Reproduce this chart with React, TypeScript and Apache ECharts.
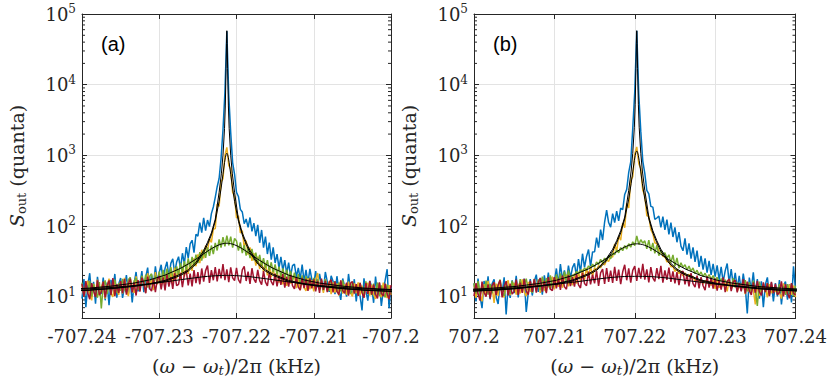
import React, { useEffect, useRef } from "react";
import * as echarts from "echarts";

// ---------- sample grid (Hz offsets, 0.25 Hz steps) ----------
const STEP_HZ = 0.25;
const X0_A = -707240;
const X1_A = -707200;
const X0_B = 707200;
const X1_B = 707240;
const CENTER_A = -707221.25;
const CENTER_B = 707220.25;

// ---------- panel (a) measured spectra ----------
const blueA = [
  9.4, 17.8, 7.1, 14.6, 21.5, 10.2, 16.3, 8.0, 19.1, 12.2,
  11.0, 18.7, 8.9, 15.9, 7.6, 17.3, 12.4, 21.0, 9.7, 15.2,
  18.4, 9.6, 13.9, 20.2, 10.8, 16.8, 8.3, 15.5, 22.4, 11.9,
  15.0, 23.1, 11.6, 18.9, 25.8, 12.7, 20.6, 14.1, 26.9, 16.2,
  22.0, 28.3, 16.4, 25.1, 31.2, 19.0, 29.6, 34.4, 21.5, 31.0,
  36.8, 24.9, 41.2, 29.4, 50.3, 35.2, 55.8, 63.0, 42.1, 76.4,
  72.0, 112.0, 80.5, 131.0, 86.0, 121.5, 98.0, 150.0, 186.0, 255.0,
  360, 470, 900, 2300, 7800, 57000, 7000, 2100, 790, 540,
  300, 262, 172, 158, 108, 126, 96, 132, 84, 110,
  72.0, 104.0, 58.0, 88.0, 49.5, 71.0, 40.2, 58.5, 33.4, 50.0,
  30.0, 40.1, 25.6, 36.5, 23.4, 33.0, 21.2, 30.4, 19.6, 27.6,
  29.0, 19.0, 25.6, 17.8, 28.4, 16.5, 23.9, 15.4, 24.8, 17.6,
  15.0, 23.0, 13.6, 21.0, 15.2, 12.0, 22.4, 16.4, 11.7, 19.8,
  16.6, 10.9, 19.5, 12.3, 9.0, 18.1, 13.9, 10.0, 21.0, 12.7,
  10.5, 17.7, 8.6, 15.3, 10.2, 6.4, 18.2, 12.0, 8.8, 16.8,
  13.9, 8.2, 19.3, 10.6, 15.6, 7.4, 12.1, 17.2, 24.5, 6.9, 13.6,
];
const orangeA = [
  14.8, 10.1, 13.4, 16.9, 10.8, 8.9, 15.2, 11.5, 17.4, 10.3,
  13.7, 16.1, 9.4, 14.2, 18.0, 11.2, 9.9, 16.6, 12.8, 10.6,
  16.4, 11.1, 18.5, 12.5, 10.2, 17.6, 13.1, 11.3, 19.4, 14.3,
  12.1, 19.6, 15.4, 11.4, 21.5, 13.6, 17.8, 12.4, 22.3, 15.0,
  19.4, 13.5, 20.6, 15.1, 23.6, 16.0, 22.2, 15.3, 25.9, 18.0,
  23.8, 17.6, 26.5, 19.2, 28.6, 21.0, 31.4, 23.2, 34.9, 27.0,
  39.8, 29.8, 46.2, 34.9, 53.0, 45.1, 66.4, 58.8, 90.2, 92.0,
  205, 190, 420, 470, 1000, 1300, 720, 640, 300, 260,
  130, 140, 80, 86, 50, 62, 39.4, 49.8, 32.1, 41.5,
  27.6, 36.8, 24.7, 32.5, 22.3, 30.1, 20.1, 27.2, 18.9, 25.8,
  16.6, 23.4, 15.8, 21.9, 14.9, 20.7, 14.2, 19.8, 15.3, 17.8,
  19.5, 13.2, 17.9, 12.4, 17.6, 13.5, 12.1, 18.4, 12.7, 17.1,
  11.9, 17.4, 21.6, 12.5, 16.4, 11.3, 17.8, 12.0, 16.6, 10.9,
  15.9, 11.4, 15.3, 10.4, 16.9, 11.1, 15.0, 10.6, 16.3, 11.6,
  10.1, 15.4, 11.2, 16.0, 10.5, 14.4, 9.6, 14.1, 15.7, 10.4,
  14.8, 10.7, 9.3, 15.2, 11.1, 9.9, 15.8, 11.3, 9.6, 14.6, 10.6,
];
const greenA = [
  15.8, 10.5, 15.2, 11.3, 16.6, 10.0, 14.9, 11.7, 9.7, 16.1,
  6.8, 14.5, 17.0, 11.0, 15.9, 10.6, 15.4, 17.5, 11.4, 15.6,
  12.1, 17.9, 12.7, 11.5, 17.4, 18.8, 12.3, 16.7, 18.4, 12.6,
  13.9, 19.8, 14.5, 20.6, 13.5, 19.3, 21.1, 14.7, 19.9, 15.4,
  22.6, 16.0, 23.9, 17.3, 24.9, 18.1, 26.3, 18.9, 17.6, 26.8,
  20.3, 30.0, 22.0, 31.9, 23.6, 34.9, 25.1, 36.5, 27.1, 39.4,
  29.9, 42.6, 32.4, 46.3, 35.5, 50.0, 37.8, 53.0, 40.1, 57.9,
  45.1, 64.6, 49.5, 69.4, 51.6, 73.2, 53.5, 70.6, 49.4, 66.6,
  61.5, 44.8, 58.8, 41.4, 53.9, 38.3, 49.8, 35.2, 47.4, 32.8,
  42.1, 29.8, 39.0, 27.4, 35.2, 25.2, 32.8, 23.5, 30.7, 22.1,
  28.7, 20.5, 26.6, 19.2, 25.1, 18.4, 24.1, 17.6, 23.1, 16.7,
  21.9, 15.9, 20.9, 15.1, 20.0, 14.4, 19.4, 14.0, 18.8, 13.7,
  18.4, 13.2, 17.7, 12.8, 17.2, 12.4, 17.6, 13.0, 12.1, 16.9,
  12.5, 16.6, 11.6, 16.0, 11.9, 17.0, 11.3, 15.6, 12.2, 11.0,
  16.3, 11.5, 15.0, 10.7, 15.7, 11.7, 10.9, 16.5, 11.3, 14.8,
  10.5, 15.3, 11.3, 15.9, 10.2, 14.5, 11.2, 9.8, 15.0, 10.8, 12.7,
];
const redA = [
  15.2, 10.1, 16.6, 11.2, 9.2, 15.6, 12.0, 9.9, 17.0, 10.6,
  11.7, 16.4, 9.8, 14.3, 17.0, 10.5, 18.3, 10.2, 15.0, 11.3,
  16.6, 11.2, 17.8, 10.7, 15.2, 18.0, 11.5, 15.9, 10.4, 17.2,
  11.8, 18.6, 15.6, 11.2, 19.3, 13.1, 12.0, 17.9, 11.6, 17.7,
  19.5, 12.7, 18.8, 12.3, 20.5, 13.9, 19.0, 12.9, 21.5, 14.3,
  14.9, 21.8, 13.7, 20.6, 23.3, 14.5, 21.2, 14.0, 23.8, 15.6,
  22.2, 15.0, 25.1, 16.3, 23.4, 27.6, 15.7, 23.7, 17.1, 26.3,
  16.5, 24.8, 18.2, 28.9, 17.2, 24.3, 16.1, 26.0, 18.5, 16.9,
  25.6, 17.5, 15.5, 24.0, 27.0, 16.7, 22.6, 15.2, 25.3, 17.7,
  15.8, 23.9, 16.9, 14.8, 23.0, 16.1, 14.2, 22.0, 16.3, 14.6,
  21.3, 14.0, 19.9, 14.7, 21.0, 13.4, 19.2, 13.9, 20.4, 14.4,
  12.9, 19.0, 13.7, 12.4, 18.5, 13.2, 17.8, 12.1, 18.1, 13.1,
  17.6, 11.9, 16.7, 11.3, 18.0, 12.5, 16.8, 11.6, 15.9, 17.5,
  11.5, 16.5, 11.9, 10.7, 17.0, 12.2, 11.2, 15.8, 10.4, 15.5,
  16.4, 11.1, 15.1, 10.3, 15.7, 11.4, 9.7, 15.6, 11.0, 16.6,
  10.7, 14.8, 10.8, 9.5, 16.0, 11.2, 10.2, 15.3, 10.9, 9.2, 14.6,
];

// ---------- panel (b) measured spectra ----------
const blueB = [
  15.4, 8.6, 18.1, 10.2, 6.9, 16.7, 10.8, 19.5, 9.2, 15.2,
  17.6, 9.9, 7.9, 15.9, 11.3, 18.8, 5.6, 14.7, 9.6, 17.1,
  11.2, 19.7, 9.8, 16.6, 12.0, 18.0, 6.1, 11.4, 17.8, 10.4,
  16.4, 20.5, 11.7, 18.5, 10.7, 20.0, 13.7, 22.0, 12.7, 19.0,
  16.4, 25.1, 15.0, 28.9, 17.6, 23.6, 16.1, 27.6, 18.3, 25.8,
  29.7, 19.6, 34.1, 22.2, 40.6, 26.0, 37.1, 46.5, 26.7, 43.0,
  43.2, 68.7, 49.6, 89.0, 63.5, 114.0, 168.0, 112.0, 96.5, 150.0,
  112, 162, 118, 180, 170, 280, 330, 575, 810, 2400,
  8000, 58000, 7400, 2200, 830, 555, 320, 285, 190, 185,
  124, 130, 138, 96, 136, 88, 123, 76, 112, 70,
  96, 59, 82, 52, 44.6, 67, 39.4, 57, 34.7, 50,
  31.2, 44.9, 26.4, 37.9, 24.2, 35.0, 22.0, 32.1, 20.3, 29.1,
  19.2, 27.8, 17.3, 26.4, 16.2, 23.2, 29.5, 15.7, 24.5, 14.7,
  21.7, 13.3, 19.7, 12.2, 21.2, 13.7, 5.8, 18.7, 12.6, 22.2,
  11.3, 17.8, 9.4, 16.5, 7.1, 14.9, 18.8, 10.4, 15.8, 8.6,
  15.6, 10.1, 17.2, 7.8, 14.3, 16.4, 9.1, 15.1, 8.3, 27.0, 12.3,
];
const orangeB = [
  14.5, 9.6, 15.8, 10.6, 8.6, 15.1, 11.0, 16.8, 10.0, 14.1,
  8.2, 15.3, 10.3, 16.1, 10.8, 9.8, 14.8, 17.1, 10.5, 14.3,
  15.7, 10.7, 15.2, 11.1, 17.6, 11.6, 10.2, 16.2, 11.8, 13.7,
  17.0, 12.0, 16.5, 11.3, 18.4, 12.6, 11.8, 17.8, 13.0, 19.3,
  12.7, 18.6, 13.8, 19.9, 13.4, 18.1, 20.6, 14.0, 19.6, 14.5,
  21.2, 15.3, 22.5, 16.5, 24.1, 17.5, 25.5, 18.5, 27.1, 19.5,
  25.8, 23.7, 27.6, 25.6, 30.3, 28.1, 33.0, 31.6, 37.7, 36.2,
  55.8, 43.7, 71.4, 63.2, 110, 95, 210, 180, 440, 500,
  1050, 1320, 760, 650, 320, 270, 140, 138, 89, 78,
  58.0, 56.2, 44.4, 44.9, 37.1, 37.4, 31.1, 31.7, 26.6, 27.0,
  22.8, 24.6, 21.1, 23.1, 19.7, 21.8, 18.7, 20.8, 17.9, 19.5,
  16.6, 18.6, 15.9, 17.7, 15.2, 17.0, 15.6, 16.5, 14.4, 17.4,
  12.9, 18.0, 13.4, 15.2, 14.1, 15.7, 11.9, 17.2, 13.1, 14.3,
  16.7, 12.0, 13.9, 13.6, 15.3, 10.9, 16.1, 11.7, 13.0, 12.6,
  7.8, 15.6, 10.3, 14.1, 12.9, 13.4, 9.8, 15.1, 11.3, 12.5,
  11.8, 12.9, 11.4, 9.4, 15.5, 10.9, 11.9, 14.9, 10.6, 14.4, 9.9,
];
const greenB = [
  15.6, 11.1, 16.6, 10.4, 14.8, 11.4, 16.9, 10.7, 15.2, 11.2,
  16.1, 10.9, 14.6, 17.5, 11.5, 10.3, 15.9, 12.2, 11.0, 16.8,
  12.2, 16.7, 11.4, 17.7, 12.7, 14.6, 18.0, 12.4, 16.4, 11.3,
  17.9, 12.9, 17.6, 12.5, 19.3, 13.3, 18.3, 13.6, 20.0, 13.1,
  15.1, 20.6, 15.6, 21.4, 15.2, 22.6, 16.7, 23.5, 17.4, 20.3,
  19.9, 22.8, 21.2, 24.1, 22.4, 25.4, 23.7, 27.3, 25.2, 28.9,
  26.4, 30.9, 28.6, 33.8, 30.2, 35.2, 32.3, 38.2, 34.4, 41.4,
  39.2, 45.7, 42.0, 49.5, 44.9, 52.8, 47.3, 56.3, 50.2, 59.8,
  52.8, 72.5, 54.9, 64.1, 57.2, 61.7, 47.6, 63.2, 44.4, 57.9,
  41.0, 53.6, 38.1, 45.7, 39.2, 42.0, 35.0, 39.2, 30.4, 39.1,
  27.2, 35.4, 25.3, 30.2, 26.0, 28.4, 24.0, 27.1, 23.0, 25.5,
  21.2, 23.7, 20.2, 22.4, 19.2, 21.5, 18.5, 20.6, 17.6, 19.9,
  16.8, 18.9, 16.0, 18.1, 15.4, 17.4, 14.9, 17.8, 13.3, 18.3,
  13.5, 15.8, 14.2, 15.2, 13.2, 17.1, 11.9, 16.1, 11.5, 16.9,
  12.3, 7.4, 16.4, 11.6, 15.1, 11.6, 15.6, 11.1, 14.8, 11.5,
  14.1, 10.9, 15.1, 11.5, 14.2, 10.6, 15.1, 11.0, 15.3, 10.1, 14.4,
];
const redB = [
  10.2, 15.6, 11.0, 8.8, 16.4, 11.5, 10.0, 15.0, 9.5, 14.4,
  15.9, 10.5, 14.6, 17.1, 9.8, 14.1, 16.6, 10.4, 15.3, 10.9,
  11.9, 17.4, 10.6, 15.8, 11.3, 17.9, 12.1, 10.7, 16.7, 11.7,
  17.7, 11.4, 16.0, 18.4, 11.8, 16.8, 11.2, 18.9, 12.8, 12.2,
  19.0, 13.1, 18.0, 12.5, 19.9, 13.8, 12.8, 20.3, 14.1, 18.9,
  13.9, 20.8, 14.7, 13.3, 21.7, 15.4, 14.3, 22.6, 15.0, 20.5,
  15.5, 23.1, 14.2, 21.8, 24.5, 15.2, 25.5, 16.2, 23.4, 15.7,
  26.4, 16.8, 24.1, 15.1, 22.5, 28.3, 17.1, 25.1, 15.8, 23.6,
  27.1, 16.7, 25.6, 18.0, 29.2, 17.4, 24.4, 15.9, 26.2, 18.5,
  16.5, 25.4, 17.8, 27.4, 15.8, 23.5, 17.3, 25.9, 16.2, 22.8,
  15.4, 22.3, 14.6, 21.0, 23.1, 15.0, 20.3, 14.0, 21.6, 15.3,
  13.7, 19.9, 13.1, 18.9, 14.3, 12.4, 19.4, 13.5, 18.4, 13.0,
  18.1, 12.2, 16.9, 12.6, 18.8, 11.6, 16.5, 17.8, 12.0, 16.2,
  17.2, 11.5, 15.7, 11.9, 17.7, 11.1, 16.4, 12.2, 10.6, 16.0,
  11.4, 16.7, 11.8, 10.4, 15.9, 11.6, 15.5, 10.2, 16.2, 11.2,
  15.2, 10.7, 11.5, 16.5, 10.1, 15.0, 11.1, 9.5, 15.6, 11.3, 10.5,
];

// ---------- fitted curves (offsets from line centre, Hz) ----------
const fitOffsetsHz = [
  -22, -18, -15, -12, -10, -8, -6, -5, -4, -3, -2.5, -2, -1.5, -1, -0.7, -0.5, -0.3, -0.2, -0.1, -0.05,
  0,
  0.05, 0.1, 0.2, 0.3, 0.5, 0.7, 1, 1.5, 2, 2.5, 3, 4, 5, 6, 8, 10, 12, 15, 18, 22,
];
const fitBlueA = [
  11.9, 12.4, 13.1, 14.2, 15.3, 17.0, 20.8, 24.0, 30.5, 45, 59, 80, 125, 300, 560, 1000, 2400, 5000, 17000, 38000,
  58000,
  38000, 17000, 5000, 2400, 1000, 560, 300, 125, 80, 59, 45, 30.5, 24.0, 20.8, 17.0, 15.3, 14.2, 13.1, 12.4, 11.9,
];
const fitOrangeA = [
  11.8, 12.3, 13.0, 14.0, 15.0, 16.5, 20.0, 23.0, 29.0, 42.0, 55.0, 75.0, 117, 223, 369, 541, 790, 925, 1030, 1060,
  1071,
  1060, 1030, 925, 790, 541, 369, 223, 117, 75.0, 55.0, 42.0, 29.0, 23.0, 20.0, 16.5, 15.0, 14.0, 13.0, 12.3, 11.8,
];
const fitGreenA = [
  12.5, 13.2, 14.1, 15.6, 17.3, 20.2, 25.2, 29.0, 34.0, 40.4, 44.1, 47.8, 51.3, 54.3, 55.6, 56.3, 56.7, 57, 57, 57,
  57,
  57, 57, 57, 56.7, 56.3, 55.6, 54.3, 51.3, 47.8, 44.1, 40.4, 34.0, 29.0, 25.2, 20.2, 17.3, 15.6, 14.1, 13.2, 12.5,
];
const fitRedA = [
  12.4, 12.9, 13.5, 14.4, 15.2, 16.2, 17.4, 18.0, 18.6, 19.2, 19.4, 19.6, 19.8, 19.9, 20, 20, 20, 20, 20, 20,
  20,
  20, 20, 20, 20, 20, 20, 19.9, 19.8, 19.6, 19.4, 19.2, 18.6, 18.0, 17.4, 16.2, 15.2, 14.4, 13.5, 12.9, 12.4,
];
const fitBlueB = [
  11.9, 12.4, 13.1, 14.3, 15.4, 17.2, 21.2, 24.6, 31.5, 47, 62, 86, 134, 320, 600, 1070, 2500, 5200, 17000, 38000,
  58000,
  38000, 17000, 5200, 2500, 1070, 600, 320, 134, 86, 62, 47, 31.5, 24.6, 21.2, 17.2, 15.4, 14.3, 13.1, 12.4, 11.9,
];
const fitOrangeB = [
  11.8, 12.3, 13.0, 14.1, 15.1, 16.7, 20.4, 23.6, 30.0, 44.0, 58.0, 80.0, 126, 240, 397, 583, 850, 995, 1108, 1140,
  1152,
  1140, 1108, 995, 850, 583, 397, 240, 126, 80.0, 58.0, 44.0, 30.0, 23.6, 20.4, 16.7, 15.1, 14.1, 13.0, 12.3, 11.8,
];
const fitGreenB = [
  12.5, 13.2, 14.0, 15.5, 17.1, 19.9, 24.8, 28.6, 33.5, 39.8, 43.4, 47.1, 50.5, 53.4, 54.7, 55.3, 55.7, 56, 56, 56,
  56,
  56, 56, 56, 55.7, 55.3, 54.7, 53.4, 50.5, 47.1, 43.4, 39.8, 33.5, 28.6, 24.8, 19.9, 17.1, 15.5, 14.0, 13.2, 12.5,
];
const fitRedB = [
  12.3, 12.8, 13.4, 14.3, 15.0, 16.0, 17.1, 17.7, 18.3, 18.8, 19.0, 19.2, 19.3, 19.4, 19.4, 19.4, 19.4, 19.4, 19.4, 19.4,
  19.4,
  19.4, 19.4, 19.4, 19.4, 19.4, 19.4, 19.4, 19.3, 19.2, 19.0, 18.8, 18.3, 17.7, 17.1, 16.0, 15.0, 14.3, 13.4, 12.8, 12.3,
];

const COLORS = { blue: "#0072BD", orange: "#EDB120", green: "#77AC30", red: "#A2142F" };
const AX = "#262626";
const GRID = "#E3E3E3";
const SERIF = "DejaVu Serif";

function sampled(x0: number, arr: number[]) {
  return arr.map((v, i) => [x0 + i * STEP_HZ, v]);
}
function fitted(c: number, arr: number[]) {
  return arr.map((v, i) => [c + fitOffsetsHz[i], v]);
}

export default function App() {
  const ref = useRef<HTMLDivElement>(null);

  useEffect(() => {
    if (!ref.current) return;
    const chart = echarts.init(ref.current, undefined, { renderer: "svg" });

    const xName = "({i|ω} − {i|ω}{sub|t})/2π (kHz)";
    const nameRich = {
      i: { fontFamily: SERIF, fontStyle: "italic", fontSize: 19, lineHeight: 22, color: AX },
      sub: { fontFamily: SERIF, fontStyle: "italic", fontSize: 13, lineHeight: 13, padding: [14, 0, 0, 0], verticalAlign: "bottom", color: AX },
      subu: { fontFamily: SERIF, fontSize: 13, lineHeight: 13, padding: [14, 0, 0, 0], verticalAlign: "bottom", color: AX },
    };

    const mkX = (gridIndex: number, min: number, max: number, top: boolean) => ({
      type: "value",
      gridIndex,
      min,
      max,
      interval: 10,
      position: top ? "top" : "bottom",
      axisLine: { show: true, onZero: false, lineStyle: { color: AX, width: 1 } },
      axisTick: { show: true, inside: true, length: 5, lineStyle: { color: AX, width: 1 } },
      splitLine: { show: !top, lineStyle: { color: GRID, width: 1 } },
      axisLabel: {
        show: !top,
        margin: 9,
        color: AX,
        fontFamily: SERIF,
        fontSize: 18,
        formatter: (v: number) => String(v / 1000),
      },
      name: top ? "" : xName,
      nameLocation: "middle",
      nameGap: 35,
      nameTextStyle: { fontFamily: SERIF, fontSize: 19, lineHeight: 22, color: AX, rich: nameRich },
    });

    const mkY = (gridIndex: number, right: boolean) => ({
      type: "log",
      logBase: 10,
      gridIndex,
      min: 5,
      max: 100000,
      position: right ? "right" : "left",
      axisLine: { show: true, onZero: false, lineStyle: { color: AX, width: 1 } },
      axisTick: { show: true, inside: true, length: 5, lineStyle: { color: AX, width: 1 } },
      splitLine: { show: !right, lineStyle: { color: GRID, width: 1 } },
      axisLabel: {
        show: !right,
        margin: 6,
        color: AX,
        formatter: (v: number) => {
          const e = Math.round(Math.log10(v));
          if (Math.abs(v / Math.pow(10, e) - 1) > 1e-6) return "";
          return `{b|10}{s|${e}}`;
        },
        rich: {
          b: { fontFamily: SERIF, fontSize: 18, lineHeight: 22, color: AX },
          s: { fontFamily: SERIF, fontSize: 12, lineHeight: 12, padding: [0, 0, 15, 0], verticalAlign: "top", color: AX },
        },
      },
      name: right ? "" : "{i|S}{subu|out} (quanta)",
      nameLocation: "middle",
      nameGap: 54,
      nameRotate: 90,
      nameTextStyle: { fontFamily: SERIF, fontSize: 19, lineHeight: 22, color: AX, rich: nameRich },
    });

    const dataLine = (name: string, xi: number, data: number[][], color: string) => ({
      name,
      type: "line",
      xAxisIndex: xi,
      yAxisIndex: xi,
      data,
      showSymbol: false,
      symbol: "none",
      clip: true,
      silent: true,
      lineStyle: { color, width: 1.5 },
    });
    const fitLine = (name: string, xi: number, data: number[][]) => ({
      name,
      type: "line",
      xAxisIndex: xi,
      yAxisIndex: xi,
      data,
      showSymbol: false,
      symbol: "none",
      clip: true,
      silent: true,
      lineStyle: { color: "#000000", width: 1 },
    });

    const option: any = {
      animation: false,
      backgroundColor: "#ffffff",
      grid: [
        { left: 68, top: 14, width: 323, height: 304 },
        { left: 474, top: 14, width: 323, height: 304 },
      ],
      xAxis: [
        mkX(0, X0_A, X1_A, false),
        mkX(1, X0_B, X1_B, false),
        mkX(0, X0_A, X1_A, true),
        mkX(1, X0_B, X1_B, true),
      ],
      yAxis: [mkY(0, false), mkY(1, false), mkY(0, true), mkY(1, true)],
      series: [
        dataLine("blueA", 0, sampled(X0_A, blueA), COLORS.blue),
        dataLine("orangeA", 0, sampled(X0_A, orangeA), COLORS.orange),
        dataLine("greenA", 0, sampled(X0_A, greenA), COLORS.green),
        dataLine("redA", 0, sampled(X0_A, redA), COLORS.red),
        fitLine("fitBlueA", 0, fitted(CENTER_A, fitBlueA)),
        fitLine("fitOrangeA", 0, fitted(CENTER_A, fitOrangeA)),
        fitLine("fitGreenA", 0, fitted(CENTER_A, fitGreenA)),
        fitLine("fitRedA", 0, fitted(CENTER_A, fitRedA)),
        dataLine("blueB", 1, sampled(X0_B, blueB), COLORS.blue),
        dataLine("orangeB", 1, sampled(X0_B, orangeB), COLORS.orange),
        dataLine("greenB", 1, sampled(X0_B, greenB), COLORS.green),
        dataLine("redB", 1, sampled(X0_B, redB), COLORS.red),
        fitLine("fitBlueB", 1, fitted(CENTER_B, fitBlueB)),
        fitLine("fitOrangeB", 1, fitted(CENTER_B, fitOrangeB)),
        fitLine("fitGreenB", 1, fitted(CENTER_B, fitGreenB)),
        fitLine("fitRedB", 1, fitted(CENTER_B, fitRedB)),
      ],
    };
    chart.setOption(option);

    // minor log ticks (MATLAB style, inside, on both vertical sides) + panel letters
    const elements: any[] = [];
    const panels = [
      { xi: 0, x0: X0_A, x1: X1_A, label: "(a)" },
      { xi: 1, x0: X0_B, x1: X1_B, label: "(b)" },
    ];
    panels.forEach((p) => {
      const xl = chart.convertToPixel({ xAxisIndex: p.xi }, p.x0) as number;
      const xr = chart.convertToPixel({ xAxisIndex: p.xi }, p.x1) as number;
      const yTop = chart.convertToPixel({ yAxisIndex: p.xi }, 100000) as number;
      for (let d = 0; d < 5; d++) {
        for (let m = 2; m <= 9; m++) {
          const v = m * Math.pow(10, d);
          if (v <= 5 || v >= 100000) continue;
          const y = chart.convertToPixel({ yAxisIndex: p.xi }, v) as number;
          elements.push({
            type: "line",
            silent: true,
            shape: { x1: xl, y1: y, x2: xl + 3, y2: y },
            style: { stroke: AX, lineWidth: 1 },
          });
          elements.push({
            type: "line",
            silent: true,
            shape: { x1: xr - 3, y1: y, x2: xr, y2: y },
            style: { stroke: AX, lineWidth: 1 },
          });
        }
      }
      elements.push({
        type: "text",
        silent: true,
        x: xl + 19,
        y: yTop + 30,
        style: {
          text: p.label,
          fontFamily: "Liberation Sans",
          fontSize: 20,
          fill: "#000000",
          verticalAlign: "middle",
          align: "left",
        },
      });
    });
    chart.setOption({ graphic: elements });

    return () => chart.dispose();
  }, []);

  return (
    <div
      ref={ref}
      style={{ position: "fixed", left: 0, top: 0, width: 830, height: 382, background: "#fff" }}
    />
  );
}
